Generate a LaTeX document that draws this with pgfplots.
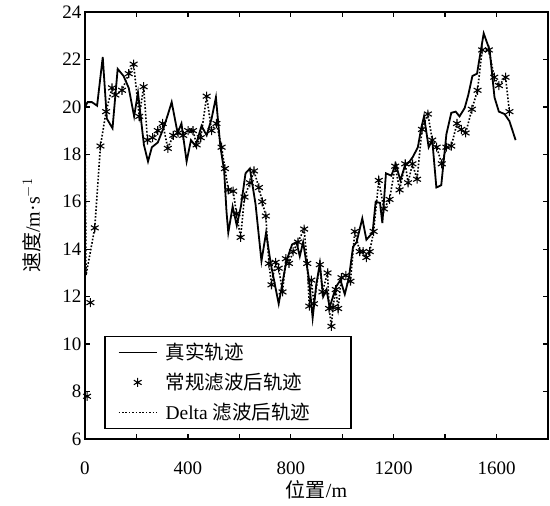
\documentclass[border=0pt]{standalone}
\usepackage{pgfplots}
\pgfplotsset{compat=1.18}
\usepackage{pgfplotstable}
\usepackage{fontspec}
\setmainfont{Liberation Serif}
\newfontfamily\cjk{Noto Sans CJK SC}

\pgfplotstableread{
x y
0 20.0
10 20.2
27 20.2
47 20.05
69 22.1
85 19.5
107 19.1
127 21.6
150 21.3
170 20.8
191 19.6
206 20.6
229 18.4
245 17.7
260 18.3
283 18.5
305 19.1
320 19.6
337 20.2
360 18.9
375 19.3
395 17.7
412 18.6
430 18.35
453 19.2
473 18.8
492 19.5
509 20.4
526 18.35
541 17.3
550 15.6
557 14.7
574 15.8
590 15.0
606 15.8
624 17.2
641 17.4
663 15.9
686 13.5
704 14.7
722 13.4
753 11.7
783 13.5
805 14.2
822 14.3
835 13.7
848 14.3
861 13.4
870 12.8
885 11.1
899 12.5
913 13.4
926 12.0
939 12.3
951 11.55
964 12.0
975 12.4
993 12.7
1010 12.1
1026 12.8
1042 14.1
1056 14.3
1078 15.3
1094 14.4
1118 14.7
1130 16.0
1147 15.95
1156 15.1
1170 17.2
1191 17.1
1208 17.6
1226 16.9
1243 17.5
1262 17.7
1275 17.9
1294 18.3
1307 19.1
1318 19.6
1336 18.3
1350 18.6
1366 16.6
1385 16.7
1405 18.85
1424 19.75
1441 19.8
1456 19.6
1476 19.95
1490 20.5
1506 21.3
1524 21.4
1550 23.1
1573 22.4
1592 20.4
1609 19.8
1631 19.7
1650 19.4
1674 18.6
}\truedata

\pgfplotstableread{
x y
38 14.9
60 18.35
82 19.8
105 20.8
118 20.5
144 20.7
170 21.4
189 21.8
211 19.6
228 20.85
243 18.6
263 18.7
283 19.0
302 19.3
322 18.25
343 18.8
362 18.9
382 18.8
401 19.0
420 19.0
434 18.4
450 18.7
473 20.45
492 19.0
511 19.3
531 18.3
544 17.4
557 16.5
576 16.45
589 15.5
605 14.5
620 16.2
641 16.8
657 17.3
676 16.6
689 16.0
703 15.4
715 13.4
725 12.5
741 13.45
753 13.2
768 12.2
781 13.6
793 13.4
809 13.9
828 14.3
852 14.85
864 13.4
872 11.6
880 12.7
890 11.7
913 13.35
923 12.2
943 13.0
949 11.5
958 10.75
964 11.55
975 12.3
984 11.5
997 12.8
1014 12.9
1032 12.65
1049 14.75
1068 13.9
1081 13.9
1094 13.65
1107 13.9
1122 14.75
1142 16.9
1162 15.7
1184 16.1
1206 17.5
1223 16.5
1245 17.6
1256 16.8
1273 17.6
1291 16.95
1310 19.05
1333 19.7
1350 18.6
1367 18.3
1387 17.6
1405 18.3
1424 18.35
1446 19.3
1463 19.05
1480 18.9
1504 19.9
1526 20.7
1544 22.4
1570 22.4
1591 21.25
1609 20.9
1635 21.25
1650 19.8
}\filtdata

\begin{document}
\begin{tikzpicture}
\begin{axis}[
  scale only axis, width=463pt, height=427pt,
  xmin=0, xmax=1800, ymin=6, ymax=24,
  xtick={0,200,...,1600}, xticklabels={0,,400,,800,,1200,,1600},
  ytick={6,8,...,24},
  tick align=inside, major tick length=5pt,
  axis line style={line width=2pt},
  every tick/.style={black, line width=1.3pt},
  tick label style={font=\fontsize{19}{21}\selectfont},
  /pgf/number format/assume math mode=true,
  xticklabel style={yshift=-19pt},
  xlabel={{\cjk 位置}/m}, ylabel={{\cjk 速度}/m·s$^{-1}$},
  label style={font=\fontsize{20}{22}\selectfont},
  xlabel style={at={([yshift=-51pt]axis description cs:0.5,0)}, anchor=center},
  ylabel style={at={([xshift=-53pt]axis description cs:0,0.5)}, anchor=center},
  legend style={at={(0.041,0.023)}, anchor=south west, draw=black, line width=1.6pt,
    font=\fontsize{19.5}{22}\selectfont, inner xsep=13pt, inner ysep=5pt, row sep=8pt, column sep=6pt},
  legend cell align=left,
  legend image code/.code={\draw[mark repeat=2,mark phase=2,#1] plot coordinates {(0pt,0pt)(19pt,0pt)(38pt,0pt)};},
]
\addplot[black, line width=1.8pt] table {\truedata};
\addlegendentry{{\cjk 真实轨迹}}
\addplot[black, only marks, mark=asterisk, mark size=4.5pt, mark options={line width=1.1pt}] table {\filtdata};
\addlegendentry{{\cjk 常规滤波后轨迹}}
\addplot[black, line width=1.6pt, dash pattern=on 1.6pt off 1.8pt] coordinates {(0,20.0)(4,12.9)(38,14.9)};
\addlegendentry{Delta {\cjk 滤波后轨迹}\hspace*{26pt}}
\addplot[black, line width=1.6pt, dash pattern=on 1.6pt off 1.8pt, forget plot] table {\filtdata};
\addplot[black, only marks, mark=asterisk, mark size=4.5pt, mark options={line width=1.1pt}, forget plot] coordinates {(8,7.8)(21,11.75)};
\end{axis}
\path ([shift={(-85pt,-66pt)}]current axis.south west) rectangle ([shift={(2pt,12pt)}]current axis.north east);
\end{tikzpicture}
\end{document}
